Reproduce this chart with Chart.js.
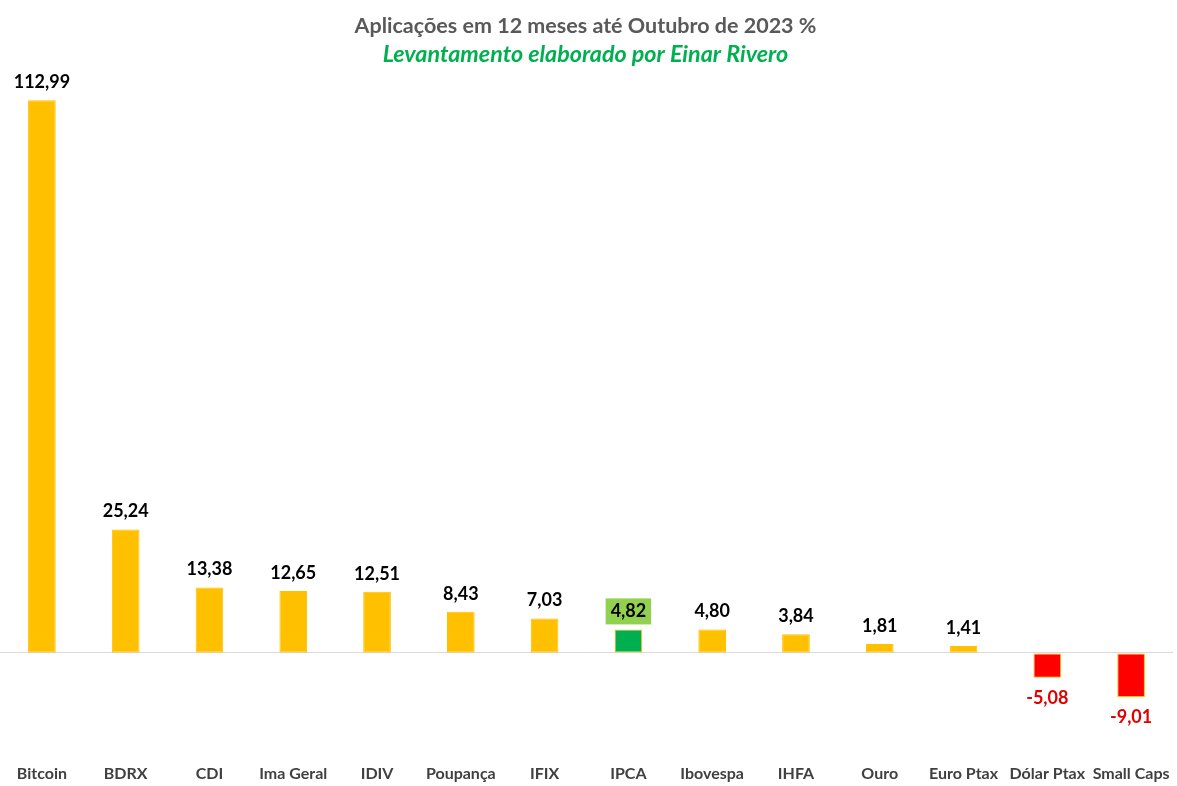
<!DOCTYPE html>
<html>
<head>
<meta charset="utf-8">
<script src="https://cdn.jsdelivr.net/npm/chart.js@4"></script>
<style>
  html, body { margin: 0; padding: 0; background: #fff; }
  #wrap { width: 1177px; height: 786px; }
</style>
</head>
<body>
<div id="wrap"><canvas id="chart"></canvas></div>
<script>
const categories = ['Bitcoin', 'BDRX', 'CDI', 'Ima Geral', 'IDIV', 'Poupança', 'IFIX', 'IPCA',
  'Ibovespa', 'IHFA', 'Ouro', 'Euro Ptax', 'Dólar Ptax', 'Small Caps'];
const returns = [112.99, 25.24, 13.38, 12.65, 12.51, 8.43, 7.03, 4.82, 4.80, 3.84, 1.81, 1.41, -5.08, -9.01];
const highlight = 'IPCA';

const fmt = v => v.toFixed(2).replace('.', ',');

const barColors = categories.map((c, i) =>
  c === highlight ? '#00B050' : (returns[i] < 0 ? '#FF0000' : '#FFC000'));

// value labels above / below bars
const valueLabels = {
  id: 'valueLabels',
  afterDatasetsDraw(chart) {
    const ctx = chart.ctx;
    const meta = chart.getDatasetMeta(0);
    ctx.save();
    ctx.font = 'bold 18px Lato';
    ctx.textAlign = 'center';
    ctx.textBaseline = 'middle';
    meta.data.forEach((bar, i) => {
      const v = returns[i];
      const txt = fmt(v);
      const y = v >= 0 ? bar.y - 18 : bar.y + 20;
      if (categories[i] === highlight) {
        const w = ctx.measureText(txt).width + 10;
        ctx.fillStyle = '#92D050';
        ctx.fillRect(bar.x - w / 2, y - 13, w, 26);
      }
      ctx.fillStyle = v < 0 ? '#E00000' : '#000000';
      ctx.fillText(txt, bar.x, y);
    });
    ctx.restore();
  }
};

new Chart(document.getElementById('chart'), {
  type: 'bar',
  data: {
    labels: categories,
    datasets: [{
      data: returns,
      backgroundColor: barColors,
      borderColor: '#FFC000',
      borderWidth: 1,
      borderSkipped: false,
      barPercentage: 0.66,
      categoryPercentage: 0.5
    }]
  },
  options: {
    responsive: true,
    maintainAspectRatio: false,
    animation: false,
    layout: { padding: { top: 0, bottom: 0, left: -2, right: 4 } },
    plugins: {
      legend: { display: false },
      tooltip: { enabled: false },
      title: {
        display: true,
        text: 'Aplicações em 12 meses até Outubro de 2023 %',
        color: '#595959',
        font: { family: 'Lato', size: 21.5, weight: 'bold' },
        padding: { top: 13, bottom: 2 }
      },
      subtitle: {
        display: true,
        text: 'Levantamento elaborado por Einar Rivero',
        color: '#00B050',
        font: { family: 'Lato', size: 23.3, weight: 'bold', style: 'italic' },
        padding: { top: 0, bottom: 10 }
      }
    },
    scales: {
      x: {
        grid: { display: false, drawTicks: true, tickLength: 10 },
        border: { display: false },
        ticks: {
          color: '#404040',
          font: { family: 'Lato', size: 16, weight: 'bold' },
          maxRotation: 0,
          autoSkip: false,
          padding: 3
        },
        afterFit: axis => { axis.paddingLeft = 0; axis.paddingRight = 0; }
      },
      y: {
        min: -20,
        max: 117.4,
        border: { display: false },
        ticks: { display: false },
        grid: {
          drawTicks: false,
          color: c => c.tick && c.tick.value === 0 ? '#D9D9D9' : 'transparent'
        },
        afterBuildTicks: axis => { axis.ticks = [{ value: 0 }]; }
      }
    }
  },
  plugins: [valueLabels]
});
</script>
</body>
</html>
